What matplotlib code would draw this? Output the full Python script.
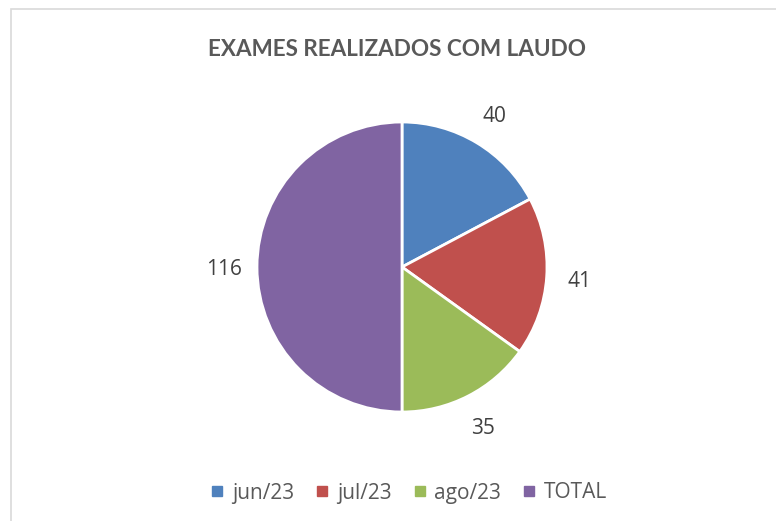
import matplotlib
matplotlib.use("Agg")
import matplotlib.pyplot as plt
from matplotlib.lines import Line2D
from matplotlib.patches import Rectangle

categories = ["jun/23", "jul/23", "ago/23", "TOTAL"]
values = [40, 41, 35, 116]
colors = ["#4F81BD", "#C0504D", "#9BBB59", "#8064A2"]
title = "EXAMES REALIZADOS COM LAUDO"

W, H = 776, 521
fig = plt.figure(figsize=(W / 100, H / 100), dpi=100)
fig.patch.set_facecolor("white")

# chart border (cropped at right/bottom)
fig.add_artist(Rectangle((11 / W, -0.05), 1.2, 1.05 - 9.5 / H,
                         transform=fig.transFigure, fill=False,
                         edgecolor="#D9D9D9", linewidth=1.2))

cx, cy, r = 402, 267, 145
ax = fig.add_axes([(cx - r) / W, (H - cy - r) / H, 2 * r / W, 2 * r / H])

wedges, texts = ax.pie(values, labels=[str(v) for v in values], colors=colors,
                       startangle=90, counterclock=False, radius=1,
                       labeldistance=1.23,
                       wedgeprops=dict(edgecolor="white", linewidth=2),
                       textprops=dict(fontsize=15, color="#404040",
                                      family=["Open Sans", "DejaVu Sans"]))
ax.set_xlim(-1, 1)
ax.set_ylim(-1, 1)
ax.axis("off")
for t in texts:
    t.set_ha("center")
    t.set_va("center_baseline")

fig.text(397 / W, 1 - 49 / H, title, ha="center", va="center",
         fontsize=16.2, fontweight="bold", color="#595959",
         family=["Lato", "DejaVu Sans"])

handles = [Line2D([], [], marker="s", linestyle="none", markersize=6.5,
                  markerfacecolor=c, markeredgecolor=c) for c in colors]
fig.legend(handles, categories, loc="center", bbox_to_anchor=(407 / W, 1 - 493 / H),
           ncol=4, frameon=False, handletextpad=0.2, columnspacing=0.85,
           handlelength=1.0,
           prop=dict(size=15, family=["Open Sans", "DejaVu Sans"]),
           labelcolor="#595959")

fig.savefig("out.png", dpi=100, facecolor="white")
